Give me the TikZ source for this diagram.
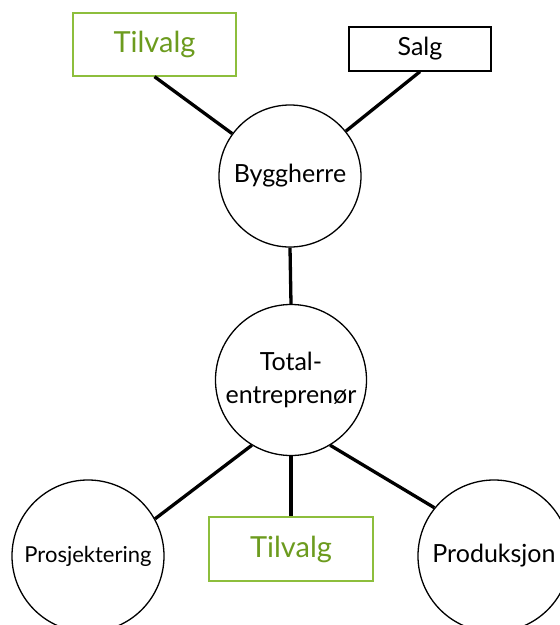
\documentclass[tikz,border=0pt]{standalone}
\usepackage{fontspec}
\setmainfont{Lato}
\definecolor{leaf}{HTML}{6C9B1E}
\definecolor{leafline}{HTML}{8DBE3C}
\tikzset{
  role/.style={circle, draw=black, line width=1.3pt, inner sep=0pt, align=center},
  greenbox/.style={rectangle, draw=leafline, line width=1.3pt, inner sep=0pt, text=leaf},
  plainbox/.style={rectangle, draw=black, line width=1.2pt, inner sep=0pt},
  link/.style={line width=3.3pt, black},
}
\begin{document}
\begin{tikzpicture}[x=1pt, y=-1pt]
\useasboundingbox (0,0) rectangle (560,625);

% parties
\node[role, minimum size=142pt, font=\fontsize{25}{30}\selectfont] (bh) at (290,176) {Byggherre};
\node[role, minimum size=151pt, font=\fontsize{25}{33}\selectfont] (te) at (291,380) {Total-\\entreprenør};
\node[role, minimum size=152pt, font=\fontsize{22}{26}\selectfont] (pr) at (88,556) {Prosjektering};
\node[role, minimum size=152pt, font=\fontsize{25}{30}\selectfont] (pd) at (494,556) {Produksjon};

% boxes
\node[greenbox, minimum width=163pt, minimum height=63pt, font=\fontsize{29}{34}\selectfont] (tv1) at (154.5,44.5) {Tilvalg};
\node[plainbox, minimum width=142pt, minimum height=44pt, font=\fontsize{25}{30}\selectfont] (sa) at (420,49) {Salg};
\node[greenbox, minimum width=164pt, minimum height=64pt, font=\fontsize{29}{34}\selectfont] (tv2) at (291,549) {Tilvalg};

% connectors
\draw[link] (tv1.south) -- (bh);
\draw[link] (sa.south) -- (bh);
\draw[link] (bh.south) -- (te.north);
\draw[link] (te.239) -- (pr.29);
\draw[link] (te.south) -- (tv2.north);
\draw[link] (te.301) -- (pd.141);
\end{tikzpicture}
\end{document}
